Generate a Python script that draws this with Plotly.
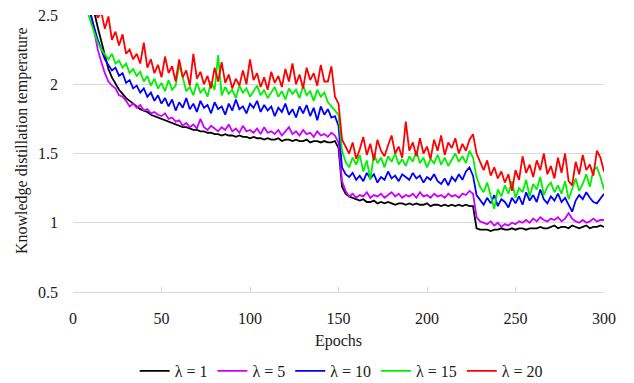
import plotly.graph_objects as go

epochs = list(range(0, 301, 2))

lam1 = [3.8, 3.5, 3.2, 2.95, 2.78, 2.64, 2.52, 2.41, 2.31, 2.20, 2.11, 2.05, 2.00, 1.96, 1.93, 1.90, 1.88, 1.86, 1.84, 1.82,
        1.81, 1.80, 1.78, 1.77, 1.76, 1.75, 1.74, 1.73, 1.72, 1.71, 1.70, 1.69, 1.69, 1.68, 1.67, 1.67, 1.66, 1.66, 1.65, 1.65,
        1.64, 1.64, 1.63, 1.64, 1.63, 1.63, 1.62, 1.63, 1.62, 1.62, 1.61, 1.62, 1.61, 1.61, 1.60, 1.61, 1.60, 1.60, 1.61, 1.59,
        1.60, 1.60, 1.59, 1.60, 1.59, 1.59, 1.60, 1.58, 1.59, 1.59, 1.58, 1.59, 1.58, 1.58, 1.59,
        1.54, 1.26, 1.21, 1.19, 1.18, 1.17, 1.16, 1.17, 1.15, 1.15, 1.16, 1.14, 1.15, 1.14, 1.15, 1.14, 1.13, 1.14, 1.14, 1.13,
        1.14, 1.13, 1.14, 1.13, 1.13, 1.14, 1.12, 1.13, 1.13, 1.12, 1.13, 1.12, 1.13, 1.12, 1.13, 1.12, 1.13, 1.12, 1.12,
        0.96, 0.95, 0.95, 0.95, 0.94, 0.95, 0.95, 0.96, 0.95, 0.95, 0.96, 0.95, 0.96, 0.96, 0.95, 0.96, 0.96, 0.96, 0.97, 0.96,
        0.96, 0.97, 0.98, 0.96, 0.97, 0.97, 0.96, 0.98, 0.97, 0.96, 0.97, 0.98, 0.96, 0.97, 0.97, 0.98, 0.97]

lam5 = [3.4, 3.1, 2.9, 2.75, 2.62, 2.52, 2.38, 2.25, 2.16, 2.08, 2.02, 1.99, 1.97, 1.92, 1.91, 1.88, 1.84, 1.86, 1.83, 1.85,
        1.81, 1.82, 1.79, 1.80, 1.78, 1.77, 1.79, 1.75, 1.76, 1.73, 1.74, 1.70, 1.72, 1.69, 1.71, 1.68, 1.75, 1.69, 1.67, 1.70,
        1.68, 1.66, 1.69, 1.67, 1.71, 1.66, 1.68, 1.65, 1.70, 1.66, 1.67, 1.65, 1.68, 1.64, 1.69, 1.65, 1.66, 1.64, 1.67, 1.63,
        1.66, 1.69, 1.64, 1.66, 1.63, 1.67, 1.64, 1.65, 1.62, 1.66, 1.63, 1.64, 1.62, 1.65, 1.63,
        1.58, 1.30, 1.23, 1.19, 1.21, 1.18, 1.20, 1.19, 1.22, 1.18, 1.20, 1.19, 1.21, 1.18, 1.20, 1.22, 1.19, 1.21, 1.18, 1.20,
        1.19, 1.21, 1.18, 1.22, 1.19, 1.20, 1.18, 1.21, 1.19, 1.20, 1.18, 1.21, 1.19, 1.20, 1.18, 1.21, 1.20, 1.23, 1.21,
        1.04, 1.01, 1.00, 0.99, 1.01, 0.98, 1.00, 0.97, 0.99, 0.98, 1.00, 0.99, 1.01, 1.00, 1.02, 1.00, 1.03, 1.01, 1.04, 1.02,
        1.01, 1.03, 1.02, 1.04, 1.01, 1.03, 1.07, 1.03, 1.01, 1.00, 1.02, 1.00, 1.01, 1.03, 1.01, 1.02, 1.02]

lam10 = [3.5, 3.2, 2.95, 2.78, 2.62, 2.50, 2.41, 2.32, 2.25, 2.18, 2.14, 2.10, 2.12, 2.06, 2.08, 2.01, 2.03, 1.97, 1.99, 1.94,
         1.97, 1.91, 1.94, 1.88, 1.92, 1.86, 1.90, 1.84, 1.89, 1.81, 1.87, 1.83, 1.90, 1.82, 1.86, 1.80, 1.88, 1.83, 1.85, 1.79,
         1.87, 1.82, 1.84, 1.78, 1.86, 1.81, 1.89, 1.82, 1.84, 1.79, 1.86, 1.83, 1.88, 1.80, 1.85, 1.81, 1.84, 1.77, 1.83, 1.80,
         1.86, 1.78, 1.82, 1.76, 1.84, 1.79, 1.85, 1.77, 1.83, 1.74, 1.84, 1.78, 1.82, 1.76, 1.77,
         1.70, 1.40, 1.35, 1.33, 1.36, 1.31, 1.34, 1.30, 1.36, 1.32, 1.35, 1.29, 1.33, 1.31, 1.37, 1.32, 1.34, 1.30, 1.35, 1.33,
         1.31, 1.36, 1.32, 1.34, 1.29, 1.33, 1.31, 1.35, 1.30, 1.28, 1.32, 1.27, 1.33, 1.30, 1.35, 1.31, 1.37, 1.40, 1.34,
         1.20, 1.16, 1.13, 1.18, 1.14, 1.20, 1.12, 1.17, 1.15, 1.11, 1.18, 1.14, 1.19, 1.13, 1.22, 1.16, 1.20, 1.15, 1.24, 1.17,
         1.14, 1.19, 1.16, 1.21, 1.15, 1.18, 1.13, 1.08, 1.16, 1.20, 1.17, 1.22, 1.18, 1.15, 1.14, 1.18, 1.21]

lam15 = [3.3, 3.0, 2.8, 2.65, 2.53, 2.45, 2.38, 2.30, 2.25, 2.21, 2.18, 2.22, 2.15, 2.17, 2.12, 2.15, 2.08, 2.11, 2.06, 2.09,
         2.02, 2.06, 1.99, 2.04, 1.97, 2.01, 1.95, 2.03, 1.96, 1.99, 2.14, 2.05, 1.95, 1.98, 1.92, 2.01, 1.94, 1.97, 1.91, 2.02,
         1.96, 2.21, 1.92, 1.98, 1.93, 1.96, 1.90, 1.99, 1.94, 1.97, 1.91, 1.95, 1.99, 1.92, 1.96, 1.90, 1.94, 1.98, 1.91, 1.95,
         1.89, 1.97, 1.93, 1.96, 1.90, 1.99, 1.92, 1.95, 1.88, 1.96, 1.91, 1.94, 1.87, 1.84, 1.81,
         1.78, 1.52, 1.44, 1.40, 1.47, 1.42, 1.49, 1.37, 1.45, 1.31, 1.50, 1.43, 1.47, 1.40, 1.48, 1.44, 1.50, 1.42, 1.46, 1.41,
         1.48, 1.44, 1.52, 1.43, 1.47, 1.40, 1.46, 1.43, 1.49, 1.42, 1.47, 1.41, 1.45, 1.50, 1.44, 1.48, 1.43, 1.52, 1.47,
         1.33, 1.26, 1.22, 1.29, 1.20, 1.10, 1.24, 1.19, 1.27, 1.21, 1.30, 1.18, 1.25, 1.22, 1.31, 1.19, 1.28, 1.24, 1.33, 1.20,
         1.26, 1.29, 1.22, 1.27, 1.21, 1.30, 1.17, 1.25, 1.32, 1.23, 1.28, 1.35, 1.26, 1.38, 1.40, 1.33, 1.24]

lam20 = [3.6, 3.3, 3.0, 2.85, 2.72, 2.62, 2.55, 2.48, 2.52, 2.40, 2.49, 2.32, 2.38, 2.28, 2.36, 2.22, 2.25, 2.18, 2.22, 2.15,
         2.30, 2.12, 2.18, 2.08, 2.14, 2.05, 2.20, 2.08, 2.13, 2.02, 2.18, 2.05, 2.10, 1.99, 2.22, 2.04, 2.09, 2.00, 2.06, 1.97,
         2.12, 2.02, 2.16, 2.01, 2.07, 1.97, 2.04, 1.99, 2.10, 2.00, 2.18, 2.03, 2.08, 1.98, 2.05, 1.96, 2.09, 2.01, 2.06, 1.98,
         2.11, 2.02, 2.15, 2.00, 2.07, 1.97, 2.12, 2.03, 2.08, 1.99, 2.14, 2.02, 2.02, 2.13, 1.91,
         1.86, 1.60, 1.55, 1.50, 1.58, 1.46, 1.53, 1.62, 1.49, 1.57, 1.45, 1.60, 1.52, 1.48, 1.56, 1.63, 1.50, 1.55, 1.47, 1.73,
         1.52, 1.58, 1.48, 1.61, 1.50, 1.55, 1.46, 1.60, 1.52, 1.63, 1.49, 1.58, 1.54, 1.61, 1.50, 1.57, 1.52, 1.60, 1.64,
         1.50, 1.44, 1.38, 1.45, 1.34, 1.40, 1.32, 1.37, 1.29, 1.35, 1.23, 1.38, 1.31, 1.48, 1.36, 1.42, 1.33, 1.45, 1.38, 1.50,
         1.35, 1.41, 1.32, 1.47, 1.36, 1.50, 1.30, 1.27, 1.44, 1.35, 1.49, 1.38, 1.42, 1.34, 1.52, 1.47, 1.37]

series_names = ["λ = 1", "λ = 5", "λ = 10", "λ = 15", "λ = 20"]
series_values = [lam1, lam5, lam10, lam15, lam20]
colors = ["#000000", "#cc00ff", "#0000ff", "#00f000", "#ff0000"]

x_ticks = [0, 50, 100, 150, 200, 250, 300]
y_ticks = [0.5, 1, 1.5, 2, 2.5]
y_tick_labels = ["0.5", "1", "1.5", "2", "2.5"]
y_title = "Knowledge distillation temperature"

font_family = "Times New Roman, Liberation Serif, DejaVu Serif, serif"
text_font = dict(family=font_family, size=16, color="#1a1a1a")

fig = go.Figure()
for name, vals, col in zip(series_names, series_values, colors):
    fig.add_trace(go.Scatter(x=epochs, y=vals, mode="lines", name=name,
                             line=dict(color=col, width=1.8)))

fig.add_annotation(text=y_title, textangle=-90, xref="paper", yref="paper",
                   x=-0.096, y=0.545, xanchor="center", yanchor="middle",
                   showarrow=False, font=text_font)

fig.update_layout(
    width=634, height=383,
    margin=dict(l=73, r=30, t=15, b=91, autoexpand=False),
    paper_bgcolor="white", plot_bgcolor="white",
    font=text_font,
    showlegend=True,
    legend=dict(orientation="h", x=0.505, xanchor="center", y=-0.285, yanchor="middle",
                font=text_font, itemwidth=30, tracegroupgap=0),
    xaxis=dict(range=[0, 300], tickvals=x_ticks, showgrid=False, automargin=False,
               showline=True, linecolor="#d9d9d9", linewidth=1,
               ticks="inside", ticklen=5, tickcolor="#d9d9d9",
               ticklabelstandoff=12, tickfont=text_font,
               title=dict(text="Epochs", standoff=8, font=text_font), zeroline=False),
    yaxis=dict(range=[0.5, 2.5], tickvals=y_ticks, ticktext=y_tick_labels, automargin=False,
               showgrid=True, gridcolor="#d9d9d9", gridwidth=1,
               showline=False, zeroline=False, ticks="",
               ticklabelstandoff=14, tickfont=text_font),
)

fig.write_html("out.html", config={"displayModeBar": False},
               post_script="document.body.style.margin='0';")
